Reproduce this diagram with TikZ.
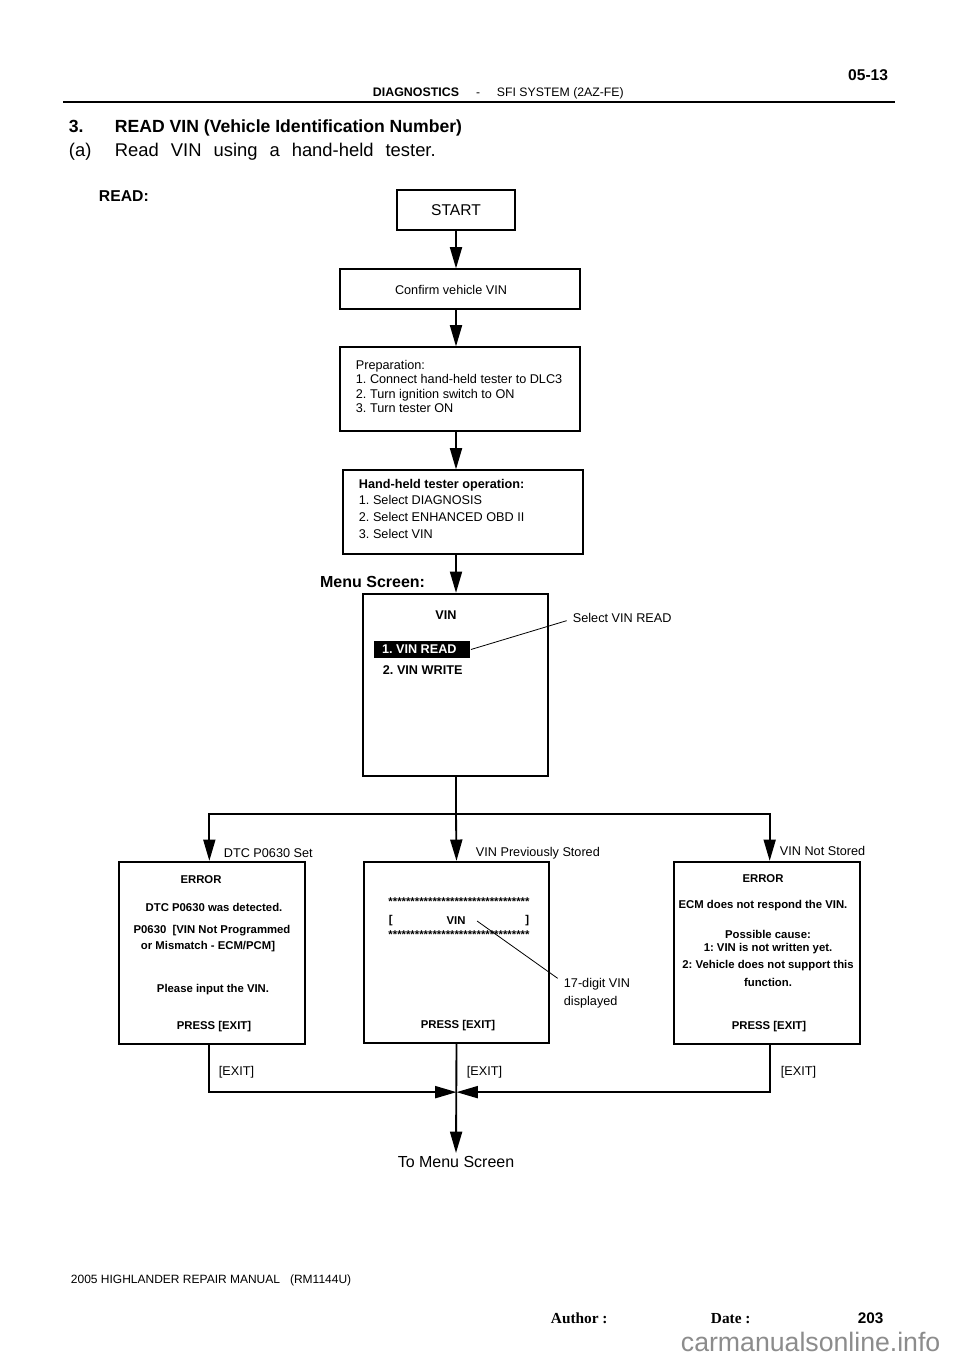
\documentclass[tikz,border=0pt]{standalone}
\usepackage{fontspec}
\setmainfont{Liberation Sans}
\newfontfamily\timesfont{Liberation Serif}
\usetikzlibrary{arrows.meta,fit,positioning}
\frenchspacing

\begin{document}
\begin{tikzpicture}[x=0.75pt,y=-0.75pt,line width=1.4pt,
    box/.style={draw,line width=0.8pt,inner sep=0pt},
    scr/.style={draw,line width=1.7pt,inner sep=0pt},
    arr/.style={-{Triangle[length=16pt,width=9pt]}},
    lbl/.style={font=\fontsize{9.5}{11}\selectfont,inner sep=0pt},
    st/.style={font=\bfseries\fontsize{8.5}{10}\selectfont,inner sep=0pt},
    mt/.style={font=\bfseries\fontsize{9.5}{11}\selectfont,inner sep=0pt}]
    \fill[white] (0,0) rectangle (960,1358);
    \useasboundingbox (0,0) rectangle (960,1358);
    % page header
    \node[anchor=base east,font=\bfseries\fontsize{11.7}{14}\selectfont,inner sep=0pt] (page) at (889,81) {05-13};
    \node[anchor=base east,font=\bfseries\fontsize{9.3}{10}\selectfont,inner sep=0pt] (sec) at (460,97) {DIAGNOSTICS};
    \node[anchor=base,font=\fontsize{9}{10}\selectfont,inner sep=0pt] (dash) at (478,97) {-};
    \node[anchor=base west,font=\fontsize{9.2}{11}\selectfont,inner sep=0pt] (sys) at (496,97) {SFI SYSTEM (2AZ-FE)};
    \draw[line width=1.5pt] (63,102) -- (895,102);
    \node[anchor=base west,font=\bfseries\fontsize{13.2}{16}\selectfont,inner sep=0pt] (num) at (68,133) {3.};
    \node[anchor=base west,font=\bfseries\fontsize{13.2}{16}\selectfont,inner sep=0pt] (title) at (114,133) {READ VIN (Vehicle Identification Number)};
    \node[anchor=base west,font=\fontsize{13.8}{16}\selectfont,inner sep=0pt] (sub) at (68,157) {(a)};
    \node[anchor=base west,font=\fontsize{13.8}{16}\selectfont,inner sep=0pt] (subtxt) at (114,157) {\spaceskip=9pt\relax Read VIN using a hand-held tester.};
    \node[anchor=base west,font=\bfseries\fontsize{11.8}{14}\selectfont,inner sep=0pt] (read) at (98,202) {READ:};
    % flow boxes
    \node[box,fit={(397,190) (515,230)}] (start) {};
    \node[font=\fontsize{11.7}{14}\selectfont,inner sep=0pt] at (start.center) {START};
    \node[box,fit={(340,269) (580,309)}] (confirm) {};
    \node[lbl] at (451,290) {Confirm vehicle VIN};
    \node[box,fit={(340,347) (580,431)}] (prep) {};
    \node[lbl,anchor=north west,align=left,font=\fontsize{9.5}{10.9}\selectfont] (preptxt) at (355,359)
        {Preparation:\\1. Connect hand-held tester to DLC3\\2. Turn ignition switch to ON\\3. Turn tester ON};
    \node[box,fit={(343,470) (583,554)}] (oper) {};
    \node[lbl,anchor=north west,align=left,font=\fontsize{9.5}{12.5}\selectfont] (opertxt) at (358,478)
        {{\bfseries Hand-held tester operation:}\\1. Select DIAGNOSIS\\2. Select ENHANCED OBD II\\3. Select VIN};
    \draw[arr] (start.south) -- (start.south |- confirm.north);
    \draw[arr] (start.south |- confirm.south) -- (start.south |- prep.north);
    \draw[arr] (start.south |- prep.south) -- (start.south |- oper.north);
    % menu screen
    \node[anchor=base east,font=\bfseries\fontsize{12}{14}\selectfont,inner sep=0pt] (menulbl) at (426,587) {Menu Screen:};
    \node[scr,fit={(363,594) (548,776)}] (menu) {};
    \draw[arr] (start.south |- oper.south) -- (start.south |- menu.north);
    \node[mt] (menuhd) at (446,615) {VIN};
    \node[fill=black,inner sep=0pt,fit={(374,641) (470,658)}] (vread) {};
    \node[mt,text=white] at ([xshift=-2pt]vread.center) {1. VIN READ};
    \node[mt,anchor=west] (vwrite) at (382,670) {2. VIN WRITE};
    \node[lbl,anchor=west] (sel) at (572,618) {Select VIN READ};
    \draw[line width=0.6pt] (vread.east) -- ([xshift=-4pt,yshift=-2pt]sel.west);
    % result screens
    \path (start.south |- menu.south) ++(0,37) coordinate (j);
    \draw (start.south |- menu.south) -- (j);
    \node[scr,fit={(119,862) (305,1044)}] (dtc) {};
    \node[scr,fit={(364,862) (549,1043)}] (vin) {};
    \node[scr,fit={(674,862) (860,1044)}] (nost) {};
    \draw[arr] (j) -| ([xshift=-2pt]dtc.north);
    \draw[arr] (j) -- (vin.north);
    \draw[arr] (j) -| ([xshift=2pt]nost.north);
    \node[lbl,anchor=west] at (223,853) {DTC P0630 Set};
    \node[lbl,anchor=west] at (475,853) {VIN Previously Stored};
    \node[lbl,anchor=west] at (779,851) {VIN Not Stored};
    % DTC P0630 screen
    \node[st] at (201,880) {ERROR};
    \node[st] at (214,907) {DTC P0630 was detected.};
    \node[st] at (212,931) {P0630\ \ [VIN Not Programmed};
    \node[st] at (208,947) {or Mismatch - ECM/PCM]};
    \node[st] at (213,990) {Please input the VIN.};
    \node[st] at (214,1027) {PRESS [EXIT]};
    % VIN stored screen
    \node[st] at (459,902) {********************************};
    \node[st,anchor=west] at (388,921) {[};
    \node[st] (vintxt) at (456,921) {VIN};
    \node[st,anchor=east] at (530,921) {]};
    \node[st] at (459,935) {********************************};
    \node[st] at (458,1026) {PRESS [EXIT]};
    \node[lbl,anchor=north west,align=left,font=\fontsize{9.5}{13.5}\selectfont] (digits) at (563,977) {17-digit\ VIN\\displayed};
    \draw[line width=0.6pt] ([xshift=8pt]vintxt.east) -- ([xshift=-4pt,yshift=-1pt]digits.north west);
    % VIN not stored screen
    \node[st] at (763,879) {ERROR};
    \node[st] at (763,906) {ECM does not respond the VIN.};
    \node[st] at (768,934) {Possible cause:};
    \node[st] at (768,949) {1: VIN is not written yet.};
    \node[st] at (768,966) {2: Vehicle does not support this};
    \node[st] at (768,982) {function.};
    \node[st] at (769,1027) {PRESS [EXIT]};
    % exits
    \path (vin.south) ++(0,48) coordinate (m);
    \node[anchor=north,font=\fontsize{12}{14}\selectfont,inner sep=2pt] (tomenu) at (456,1153) {To Menu Screen};
    \draw[arr] ([xshift=-2pt]dtc.south) |- (m);
    \draw[arr] ([xshift=2pt]nost.south) |- (m);
    \draw[arr] (vin.south) -- (tomenu.north);
    \node[lbl,anchor=west] at (218,1072) {[EXIT]};
    \node[lbl,anchor=west] at (466,1072) {[EXIT]};
    \node[lbl,anchor=west] at (780,1072) {[EXIT]};
    % page footer
    \node[anchor=west,font=\fontsize{9}{11}\selectfont,inner sep=0pt] (manual) at (70,1280) {2005 HIGHLANDER REPAIR MANUAL\ \ \ (RM1144U)};
    \node[anchor=base west,font=\timesfont\bfseries\fontsize{11.5}{13}\selectfont,inner sep=0pt] (author) at (550,1323) {Author :};
    \node[anchor=base west,font=\timesfont\bfseries\fontsize{11.5}{13}\selectfont,inner sep=0pt] (date) at (710,1323) {Date :};
    \node[anchor=base west,font=\bfseries\fontsize{11.5}{13}\selectfont,inner sep=0pt] (pnum) at (857,1323) {203};
    \node[anchor=west,font=\fontsize{20}{24}\selectfont,text=black!45,inner sep=0pt] (mark) at (680,1342) {carmanualsonline.info};
\end{tikzpicture}
\end{document}
